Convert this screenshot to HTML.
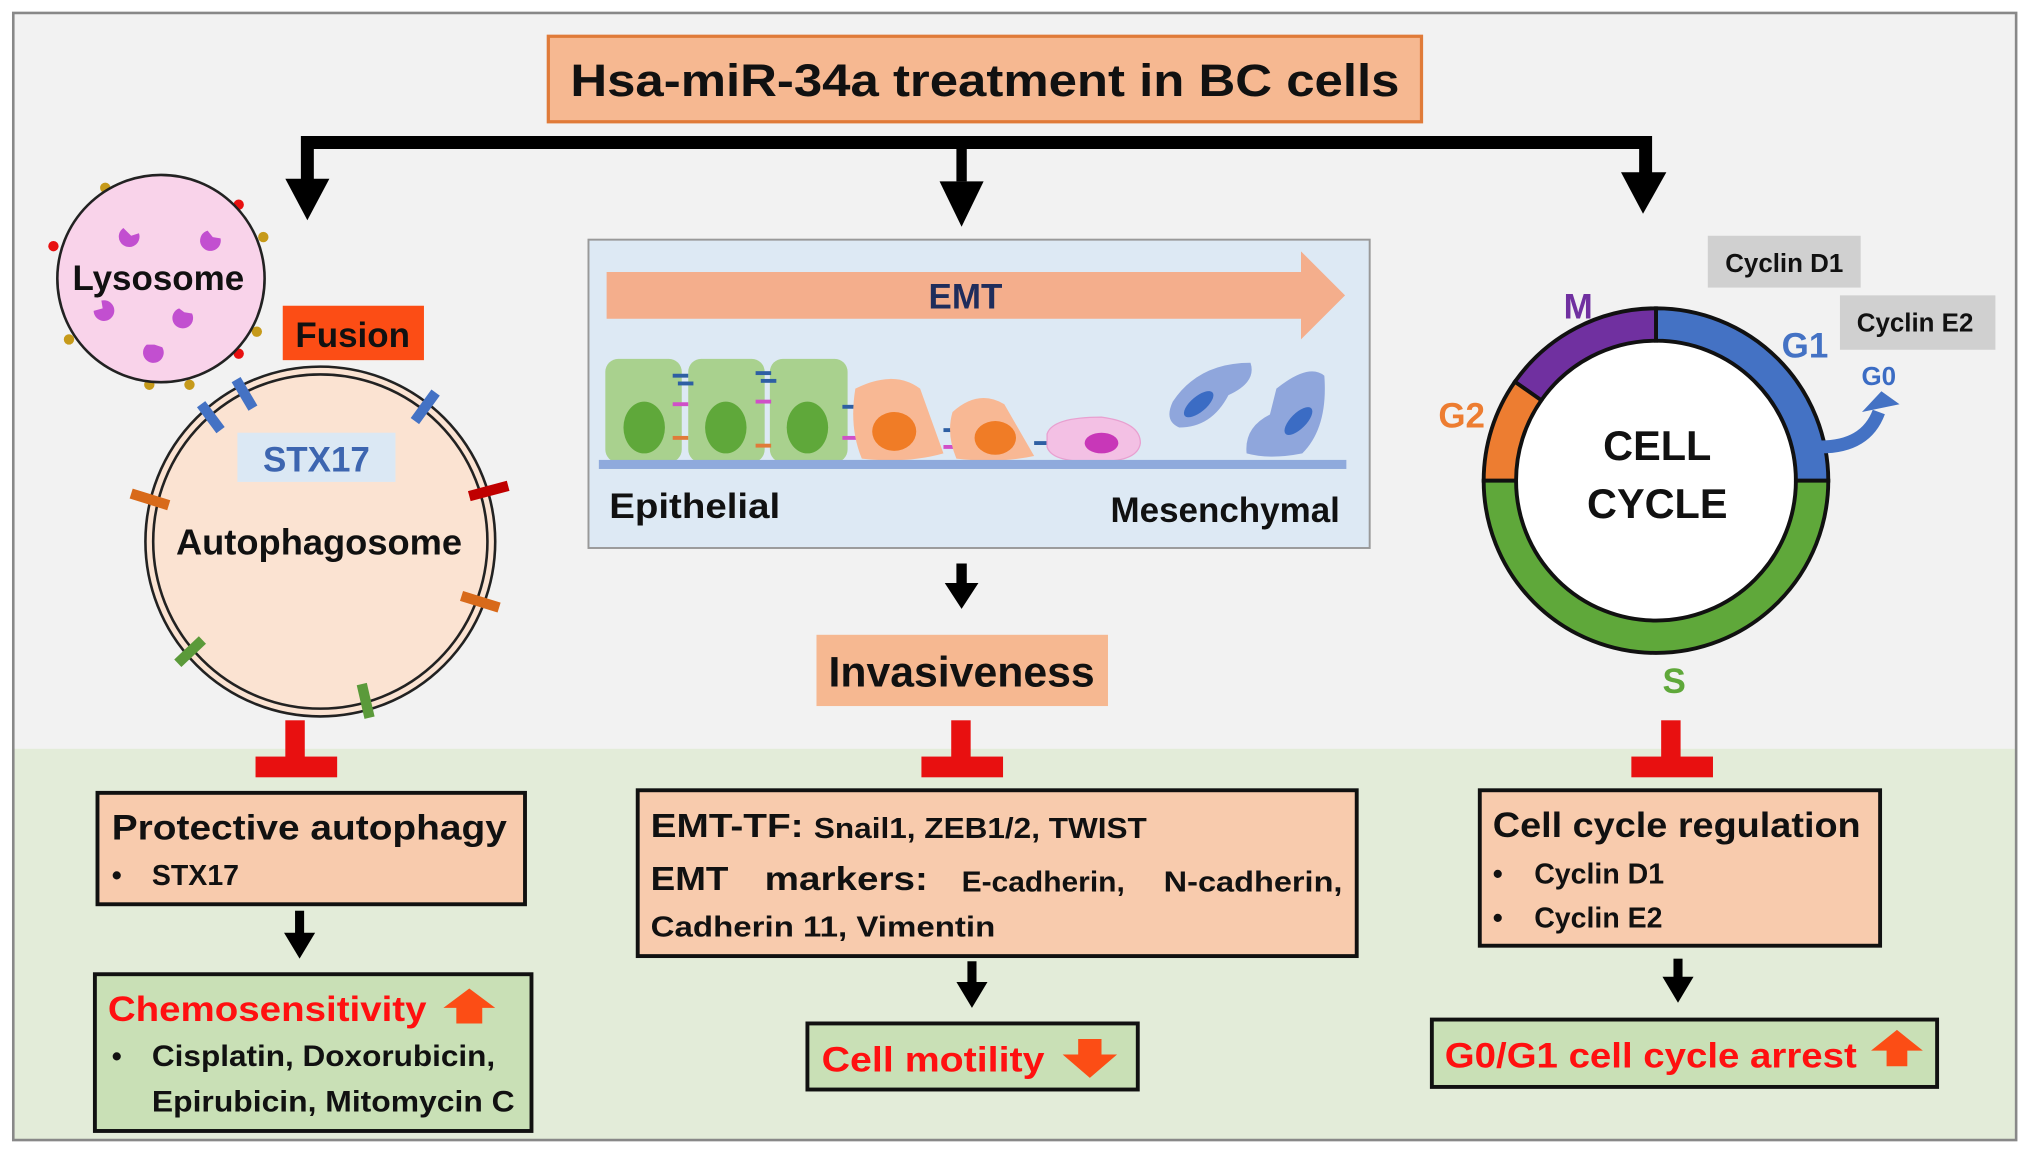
<!DOCTYPE html>
<html><head><meta charset="utf-8"><style>
html,body{margin:0;padding:0;background:#fff;}
svg{display:block;}
text{font-family:"Liberation Sans",sans-serif;font-weight:bold;}
</style></head><body>
<svg width="2032" height="1153" viewBox="0 0 1568 890" xmlns="http://www.w3.org/2000/svg">
<rect x="0" y="0" width="1568" height="890" fill="#fff"/>
<rect x="10" y="10" width="1546" height="570" fill="#f2f2f2"/>
<rect x="10" y="578" width="1546" height="302" fill="#e3ecd9"/>
<rect x="10" y="10" width="1546" height="870" fill="none" stroke="#888" stroke-width="2"/>

<!-- title -->
<rect x="423" y="28" width="674" height="66" fill="#f6b891" stroke="#e07b39" stroke-width="2.5"/>
<text x="760" y="74" font-size="35" text-anchor="middle" textLength="640" lengthAdjust="spacingAndGlyphs" fill="#111">Hsa-miR-34a treatment in BC cells</text>

<!-- top connector -->
<path d="M237,140 V110 H1270 V135" fill="none" stroke="#000" stroke-width="10"/>
<line x1="742" y1="110" x2="742" y2="140" stroke="#000" stroke-width="8"/>
<polygon points="220,138 254,138 237,170" fill="#000"/>
<polygon points="725,140 759,140 742,175" fill="#000"/>
<polygon points="1251,133 1286,133 1268,165" fill="#000"/>

<!-- lysosome -->
<g fill="#c69a1a">
<circle cx="81" cy="145" r="4"/><circle cx="203" cy="183" r="4"/><circle cx="53" cy="262" r="4"/><circle cx="198" cy="256" r="4"/><circle cx="115" cy="297" r="4"/><circle cx="146" cy="297" r="4"/></g>
<g fill="#e81010"><circle cx="184" cy="158" r="4"/><circle cx="41" cy="190" r="4"/><circle cx="184" cy="273" r="4"/></g>
<circle cx="124" cy="215" r="80" fill="#f9d3ea" stroke="#222" stroke-width="2"/>
<g fill="#c24fd0">
<path d="M95,176 a8,8 0 1 0 12,4 l-6,2 z"/><path d="M160,178 a8,8 0 1 0 10,6 l-6,-1 z"/>
<path d="M72,240 a8,8 0 1 0 6,-8 l1,6 z"/><path d="M138,238 a8,8 0 1 0 10,4 l-6,-1 z"/><path d="M113,266 a8,8 0 1 0 12,2 l-6,-2 z"/></g>
<text x="122" y="224" font-size="27" text-anchor="middle" fill="#111">Lysosome</text>

<rect x="218" y="236" width="109" height="42" fill="#fc4d15"/>
<text x="272" y="268" font-size="27" text-anchor="middle" fill="#111">Fusion</text>

<!-- autophagosome -->
<circle cx="247" cy="418" r="135" fill="#fbe3d2" stroke="#222" stroke-width="2"/>
<circle cx="247" cy="418" r="129" fill="none" stroke="#222" stroke-width="2"/>
<g stroke-width="8">
<line x1="155" y1="312" x2="170" y2="332" stroke="#4472c4"/>
<line x1="182" y1="293" x2="195" y2="315" stroke="#4472c4"/>
<line x1="336" y1="303" x2="320" y2="325" stroke="#4472c4"/>
<line x1="362" y1="383" x2="392" y2="375" stroke="#c00000"/>
<line x1="101" y1="381" x2="130" y2="390" stroke="#d86a1a"/>
<line x1="356" y1="460" x2="385" y2="469" stroke="#d86a1a"/>
<line x1="137" y1="512" x2="156" y2="494" stroke="#5b9a3a"/>
<line x1="279" y1="528" x2="285" y2="554" stroke="#5b9a3a"/></g>
<rect x="183" y="334" width="122" height="38" fill="#dbe8f4"/>
<text x="244" y="364" font-size="27" text-anchor="middle" fill="#3d65b0">STX17</text>
<text x="246" y="428" font-size="28" text-anchor="middle" fill="#111">Autophagosome</text>

<!-- EMT panel -->
<rect x="454" y="185" width="603" height="238" fill="#dde9f4" stroke="#999" stroke-width="1.5"/>
<polygon points="468,210 1004,210 1004,194 1038,228 1004,262 1004,246 468,246" fill="#f4ae8c"/>
<text x="745" y="238" font-size="27" text-anchor="middle" fill="#1f2d5c">EMT</text>
<g fill="#a9d18e">
<rect x="467" y="277" width="59" height="80" rx="10"/><rect x="531" y="277" width="59" height="80" rx="10"/><rect x="594" y="277" width="60" height="80" rx="10"/></g>
<g fill="#5fa83a"><ellipse cx="497" cy="330" rx="16" ry="20"/><ellipse cx="560" cy="330" rx="16" ry="20"/><ellipse cx="623" cy="330" rx="16" ry="20"/></g>
<g stroke-width="3">
<line x1="519" y1="290" x2="531" y2="290" stroke="#2e5fa3"/><line x1="523" y1="296" x2="535" y2="296" stroke="#2e5fa3"/>
<line x1="519" y1="312" x2="531" y2="312" stroke="#d04fc8"/><line x1="519" y1="338" x2="531" y2="338" stroke="#e07b39"/>
<line x1="583" y1="288" x2="595" y2="288" stroke="#2e5fa3"/><line x1="587" y1="294" x2="599" y2="294" stroke="#2e5fa3"/>
<line x1="583" y1="310" x2="595" y2="310" stroke="#d04fc8"/><line x1="583" y1="344" x2="595" y2="344" stroke="#e07b39"/>
<line x1="650" y1="314" x2="662" y2="314" stroke="#2e5fa3"/><line x1="650" y1="338" x2="662" y2="338" stroke="#d04fc8"/>
<line x1="728" y1="332" x2="740" y2="332" stroke="#2e5fa3"/><line x1="728" y1="345" x2="740" y2="345" stroke="#d04fc8"/>
<line x1="798" y1="342" x2="810" y2="342" stroke="#2e5fa3"/></g>
<path d="M660,300 Q690,285 710,300 L728,350 Q700,358 665,354 Q655,330 660,300 Z" fill="#f8b894"/>
<ellipse cx="690" cy="333" rx="17" ry="15" fill="#f07c26"/>
<path d="M735,318 Q755,300 775,312 L798,352 Q770,358 738,354 Q730,335 735,318 Z" fill="#f8b894"/>
<ellipse cx="768" cy="338" rx="16" ry="13" fill="#f07c26"/>
<path d="M808,335 Q812,322 850,322 Q880,326 880,342 Q878,356 850,356 Q812,358 808,345 Z" fill="#f3c0e4" stroke="#e8a0d0"/>
<ellipse cx="850" cy="342" rx="13" ry="8" fill="#c837b8"/>
<path d="M905,310 Q925,280 965,280 Q970,295 948,305 Q935,330 910,330 Q898,325 905,310 Z" fill="#8fa6dc"/>
<ellipse cx="925" cy="312" rx="6" ry="14" transform="rotate(50 925 312)" fill="#3b6cc4"/>
<path d="M985,300 Q1010,280 1022,290 Q1025,330 1005,350 Q980,355 962,350 Q960,330 980,320 Z" fill="#8fa6dc"/>
<ellipse cx="1002" cy="325" rx="6" ry="14" transform="rotate(45 1002 325)" fill="#3b6cc4"/>
<rect x="462" y="355" width="577" height="7" fill="#8faadc"/>
<text x="470" y="400" font-size="27" fill="#111" textLength="132" lengthAdjust="spacingAndGlyphs">Epithelial</text>
<text x="1034" y="403" font-size="27" text-anchor="end" fill="#111">Mesenchymal</text>

<line x1="742" y1="435" x2="742" y2="452" stroke="#000" stroke-width="8"/>
<polygon points="729,450 755,450 742,470" fill="#000"/>
<rect x="630" y="490" width="225" height="55" fill="#f6b891"/>
<text x="742" y="530" font-size="33" text-anchor="middle" fill="#111">Invasiveness</text>

<!-- cell cycle -->
<rect x="1318" y="182" width="118" height="40" fill="#d0d0d0"/>
<text x="1377" y="210" font-size="20" text-anchor="middle" fill="#111">Cyclin D1</text>
<rect x="1420" y="228" width="120" height="42" fill="#d0d0d0"/>
<text x="1478" y="256" font-size="20" text-anchor="middle" fill="#111">Cyclin E2</text>
<circle cx="1278" cy="371" r="108" fill="#fff"/>
<path d="M1278,238 A133,133 0 0 1 1411,371 L1386,371 A108,108 0 0 0 1278,263 Z" fill="#4472c4" stroke="#111" stroke-width="3"/>
<path d="M1169.1,294.7 A133,133 0 0 1 1278,238 L1278,263 A108,108 0 0 0 1189.5,309 Z" fill="#7030a0" stroke="#111" stroke-width="3"/>
<path d="M1145,371 A133,133 0 0 1 1169.1,294.7 L1189.5,309 A108,108 0 0 0 1170,371 Z" fill="#ed7d31" stroke="#111" stroke-width="3"/>
<path d="M1411,371 A133,133 0 0 1 1145,371 L1170,371 A108,108 0 0 0 1386,371 Z" fill="#5fa83a" stroke="#111" stroke-width="3"/>
<path d="M1405,345 Q1440,345 1450,318" fill="none" stroke="#4472c4" stroke-width="10"/>
<polygon points="1437,318 1466,312 1452,302" fill="#4472c4"/>
<text x="1279" y="355" font-size="32" text-anchor="middle" fill="#111">CELL</text>
<text x="1279" y="400" font-size="32" text-anchor="middle" fill="#111">CYCLE</text>
<text x="1218" y="246" font-size="27" text-anchor="middle" fill="#7030a0">M</text>
<text x="1393" y="276" font-size="27" text-anchor="middle" fill="#4472c4">G1</text>
<text x="1450" y="297" font-size="20" text-anchor="middle" fill="#3b6cc4">G0</text>
<text x="1128" y="330" font-size="27" text-anchor="middle" fill="#ed7d31">G2</text>
<text x="1292" y="535" font-size="27" text-anchor="middle" fill="#5fa83a">S</text>

<!-- inhibition T's -->
<g fill="#e81010">
<rect x="220" y="556" width="15" height="32"/><rect x="197" y="584" width="63" height="16"/>
<rect x="734" y="556" width="15" height="32"/><rect x="711" y="584" width="63" height="16"/>
<rect x="1282" y="556" width="15" height="32"/><rect x="1259" y="584" width="63" height="16"/></g>

<!-- bottom boxes -->
<rect x="75" y="612" width="330" height="86" fill="#f8cbad" stroke="#111" stroke-width="3"/>
<text x="86" y="648" font-size="27" textLength="305" lengthAdjust="spacingAndGlyphs" fill="#111">Protective autophagy</text>
<text x="86" y="683" font-size="22" fill="#111">•</text>
<text x="117" y="683" font-size="22" fill="#111">STX17</text>
<line x1="231" y1="703" x2="231" y2="722" stroke="#000" stroke-width="7"/>
<polygon points="219,720 243,720 231,740" fill="#000"/>
<rect x="73" y="752" width="337" height="121" fill="#c9e0b6" stroke="#111" stroke-width="3"/>
<text x="83" y="788" font-size="27" fill="#ff1010" textLength="246" lengthAdjust="spacingAndGlyphs">Chemosensitivity</text>
<polygon points="352,790 372,790 372,778 382,778 362,763 342,778 352,778" fill="#fc4d15"/>
<text x="86" y="823" font-size="22" fill="#111">•</text>
<text x="117" y="823" font-size="23" fill="#111" textLength="265" lengthAdjust="spacingAndGlyphs">Cisplatin, Doxorubicin,</text>
<text x="117" y="858" font-size="23" fill="#111" textLength="280" lengthAdjust="spacingAndGlyphs">Epirubicin, Mitomycin C</text>

<rect x="492" y="610" width="555" height="128" fill="#f8cbad" stroke="#111" stroke-width="3"/>
<text x="502" y="646" font-size="26" fill="#111" textLength="118" lengthAdjust="spacingAndGlyphs">EMT-TF:</text>
<text x="628" y="647" font-size="22" fill="#111" textLength="257" lengthAdjust="spacingAndGlyphs">Snail1, ZEB1/2, TWIST</text>
<text x="502" y="687" font-size="26" fill="#111" textLength="60" lengthAdjust="spacingAndGlyphs">EMT</text>
<text x="590" y="687" font-size="26" fill="#111" textLength="126" lengthAdjust="spacingAndGlyphs">markers:</text>
<text x="742" y="688" font-size="22" fill="#111" textLength="126" lengthAdjust="spacingAndGlyphs">E-cadherin,</text>
<text x="898" y="688" font-size="22" fill="#111" textLength="138" lengthAdjust="spacingAndGlyphs">N-cadherin,</text>
<text x="502" y="723" font-size="22" fill="#111" textLength="266" lengthAdjust="spacingAndGlyphs">Cadherin 11, Vimentin</text>
<line x1="750" y1="742" x2="750" y2="760" stroke="#000" stroke-width="7"/>
<polygon points="738,758 762,758 750,778" fill="#000"/>
<rect x="623" y="790" width="255" height="51" fill="#c9e0b6" stroke="#111" stroke-width="3"/>
<text x="634" y="827" font-size="27" fill="#ff1010" textLength="172" lengthAdjust="spacingAndGlyphs">Cell motility</text>
<polygon points="832,802 850,802 850,814 862,814 841,832 820,814 832,814" fill="#fc4d15"/>

<rect x="1142" y="610" width="309" height="120" fill="#f8cbad" stroke="#111" stroke-width="3"/>
<text x="1152" y="646" font-size="27" fill="#111" textLength="284" lengthAdjust="spacingAndGlyphs">Cell cycle regulation</text>
<text x="1152" y="682" font-size="22" fill="#111">•</text>
<text x="1184" y="682" font-size="22" fill="#111">Cyclin D1</text>
<text x="1152" y="716" font-size="22" fill="#111">•</text>
<text x="1184" y="716" font-size="22" fill="#111">Cyclin E2</text>
<line x1="1295" y1="740" x2="1295" y2="756" stroke="#000" stroke-width="7"/>
<polygon points="1283,754 1307,754 1295,774" fill="#000"/>
<rect x="1105" y="787" width="390" height="52" fill="#c9e0b6" stroke="#111" stroke-width="3"/>
<text x="1115" y="824" font-size="27" fill="#ff1010" textLength="318" lengthAdjust="spacingAndGlyphs">G0/G1 cell cycle arrest</text>
<polygon points="1456,823 1472,823 1472,811 1484,811 1464,795 1444,811 1456,811" fill="#fc4d15"/>
</svg>
</body></html>
